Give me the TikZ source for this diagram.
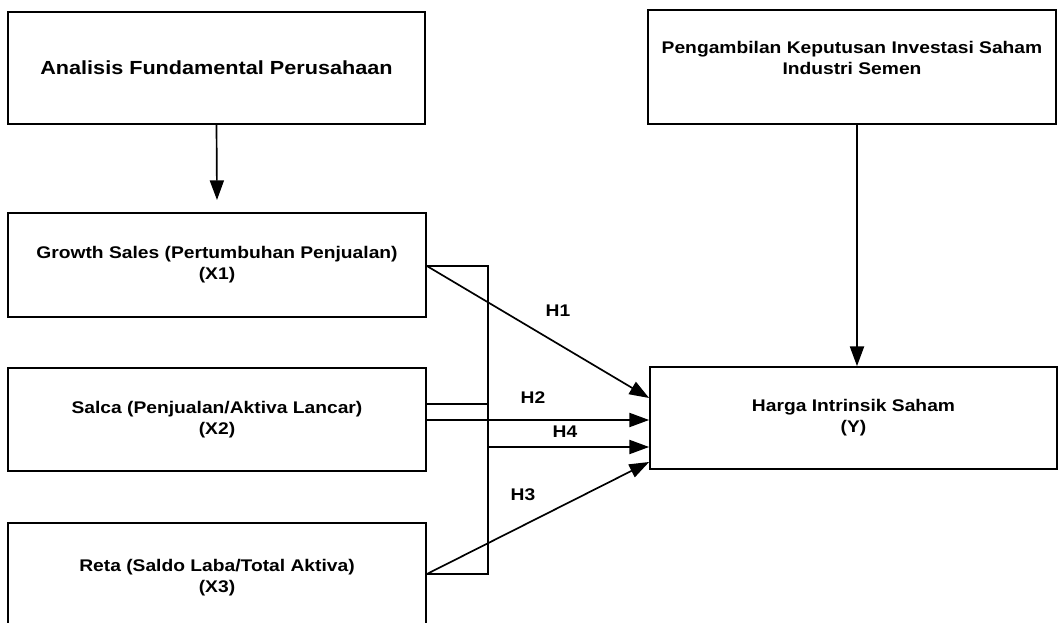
\documentclass[tikz,border=0pt]{standalone}
\usepackage{fontspec}
\setmainfont{Liberation Sans}[FakeStretch=1.14]
\usetikzlibrary{arrows.meta}

\tikzset{
	box/.style={draw, line width=1.2pt, inner sep=0pt, align=center,
		font=\bfseries\fontsize{12}{15}\selectfont},
	hyp/.style={font=\bfseries\fontsize{12}{15}\selectfont},
	link/.style={line width=1.2pt},
	>={Triangle[length=14pt,width=10pt]}
}

\begin{document}
\begin{tikzpicture}[x=0.025cm, y=-0.025cm]
		\useasboundingbox (0,0) rectangle (1059,623);
		
		% Boxes
		\node[box, minimum width=10.425cm, minimum height=2.8cm, font=\bfseries\fontsize{13.5}{15}\selectfont] (anal) at (216.5,68) {Analisis Fundamental Perusahaan};
		\node[box, minimum width=10.2cm, minimum height=2.85cm] (peng) at (852,67) {};
		\node[hyp, align=center] (pengtext) at (852,58) {Pengambilan Keputusan Investasi Saham\\Industri Semen};
		\node[box, minimum width=10.45cm, minimum height=2.6cm] (xone) at (217,265) {Growth Sales (Pertumbuhan Penjualan)\\(X1)};
		\node[box, minimum width=10.45cm, minimum height=2.575cm] (xtwo) at (217,419.5) {Salca (Penjualan/Aktiva Lancar)\\(X2)};
		\node[box, minimum width=10.45cm, minimum height=2.75cm] (xthree) at (217,578) {Reta (Saldo Laba/Total Aktiva)\\(X3)};
		\node[box, minimum width=10.175cm, minimum height=2.55cm] (harga) at (853.5,418) {Harga Intrinsik Saham\\(Y)};
		
		% Bracket joining X1, X2, X3
		\coordinate (bone) at (488,266);
		\coordinate (btwo) at (488,404);
		\coordinate (bthree) at (488,574);
		\coordinate (bfour) at (488,447);
		\draw[link] (xone.east |- bone) -- (bone) -- (bthree) -- (xthree.east |- bthree);
		\draw[link] (xtwo.east |- btwo) -- (btwo);
		
		% Arrows
		\coordinate (below) at (217,200);
		\draw[link, ->] (anal.south) -- (below);
		\draw[link, ->] (peng.south -| 857,0) -- (harga.north -| 857,0);
		\draw[link, ->] (xone.east |- bone) -- (harga.west |- 0,398);
		\draw[link, ->] (xtwo.east |- 0,420) -- (harga.west |- 0,420);
		\draw[link, ->] (bfour) -- (harga.west |- bfour);
		\draw[link, ->] (xthree.east |- bthree) -- (harga.west |- 0,462);
		
		% Labels
		\node[hyp] (hone) at (558,311) {H1};
		\node[hyp] (htwo) at (533,398) {H2};
		\node[hyp] (hfour) at (565,432) {H4};
		\node[hyp] (hthree) at (523,495) {H3};
	\end{tikzpicture}
\end{document}
